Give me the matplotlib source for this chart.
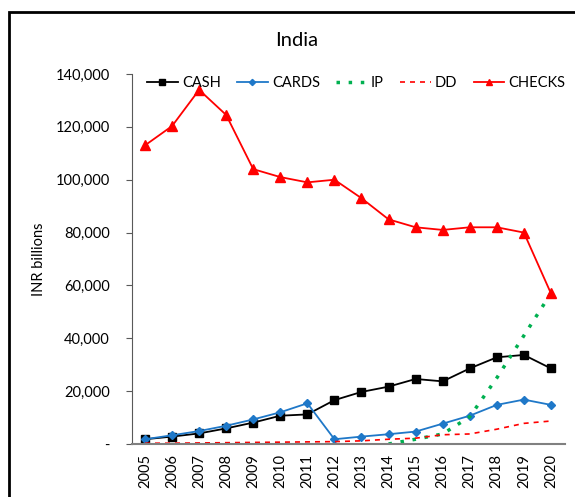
import numpy as np
import matplotlib.pyplot as plt
from matplotlib.patches import Rectangle
from matplotlib.ticker import FuncFormatter

plt.rcParams['font.family'] = ['Lato', 'DejaVu Sans']

years = [str(y) for y in range(2005, 2021)]
cash = [1800, 2800, 4000, 5900, 8100, 10700, 11200, 16600, 19700, 21700, 24600, 23700, 28600, 32800, 33700, 28600]
cards = [1800, 3300, 4900, 6900, 9300, 12000, 15400, 1800, 2800, 3700, 4700, 7700, 10700, 14800, 16800, 14800]
ip_years = years[9:]
ip = [0, 1800, 3800, 10300, 25000, 41000, 57000]
dd = [300, 300, 400, 500, 600, 700, 800, 900, 1200, 1800, 2200, 3500, 3800, 5600, 7800, 8700]
checks = [113000, 120300, 134000, 124500, 104000, 101000, 99000, 100000, 93000, 85000, 82000, 81000, 82000, 82000, 80000, 57000]

fig = plt.figure(figsize=(5.75, 4.97), dpi=100)
ax = fig.add_axes([132/575, 53/497, 433/575, 370/497])

x = np.arange(len(years))
ax.plot(x, cash, color='black', marker='s', markersize=6, lw=1.3, label='CASH')
ax.plot(x, cards, color='#1f78c8', marker='D', markersize=4.5, lw=1.3, label='CARDS')
ax.plot(x[9:], ip, color='#00b050', linestyle=(0, (1, 2.5)), lw=2.5, label='IP')
ax.plot(x, dd, color='red', linestyle=(0, (3, 3)), lw=1.2, label='DD')
ax.plot(x, checks, color='red', marker='^', markersize=6.5, lw=1.3, label='CHECKS')

ax.set_xlim(-0.48, 15.52)
ax.set_ylim(0, 140000)
ax.set_yticks(range(0, 140001, 20000))
ax.yaxis.set_major_formatter(FuncFormatter(lambda v, p: '-' if v == 0 else f'{int(v):,}'))
ax.set_xticks(x)
ax.set_xticklabels(years, rotation=90, fontsize=10.5)
ax.tick_params(axis='x', length=0, pad=7)
ax.tick_params(axis='y', labelsize=10.5, length=4, color='#595959', pad=12)

for s in ['top', 'right']:
    ax.spines[s].set_visible(False)
ax.spines['left'].set_color('#595959')
ax.spines['bottom'].set_color('#808080')
ax.spines['bottom'].set_linewidth(1.5)

ax.set_ylabel('INR billions', fontsize=10.5, labelpad=7)
fig.text(297/575, 0.918, 'India', fontsize=14.5, ha='center', va='center')

ax.legend(loc='upper center', bbox_to_anchor=(0.518, 1.03), ncol=5, frameon=False,
          fontsize=10.5, handlelength=2.1, columnspacing=1.1, handletextpad=0.3,
          markerscale=0.7)

fig.add_artist(Rectangle((9/575, -0.1), 1.2, 1 - 12/497 + 0.1, transform=fig.transFigure,
                         fill=False, edgecolor='black', lw=2))

fig.savefig('out.png', dpi=100)
